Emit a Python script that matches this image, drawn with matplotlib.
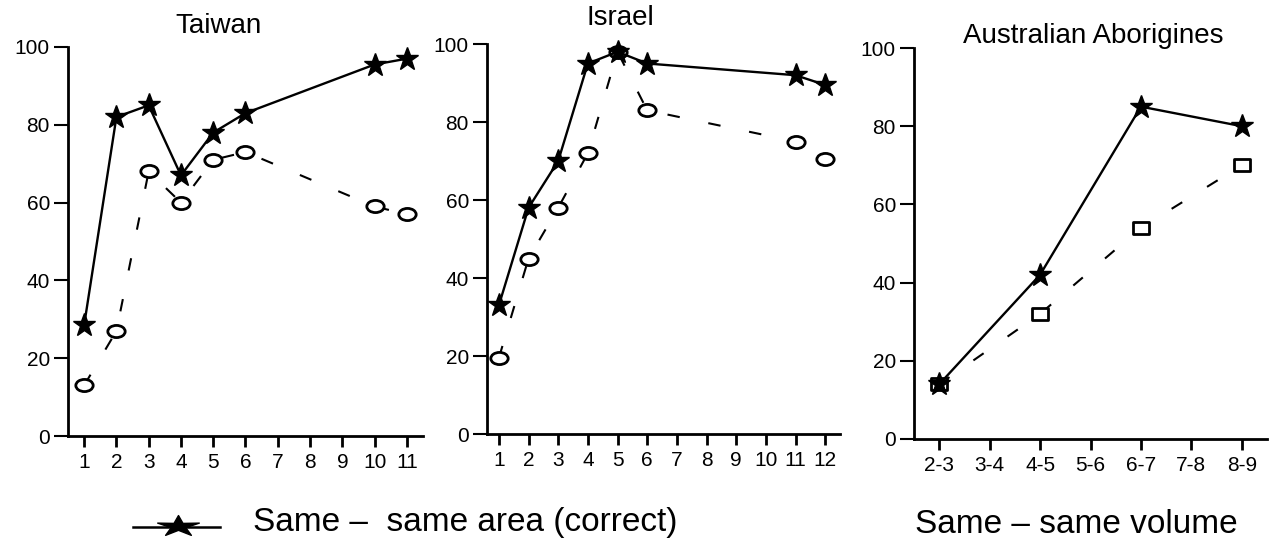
import matplotlib
matplotlib.use("Agg")
import matplotlib.pyplot as plt
from matplotlib.path import Path
from matplotlib.transforms import Affine2D

plt.rcParams['font.family'] = ['Liberation Sans', 'DejaVu Sans']

# ---- data ----
tw_x = [1, 2, 3, 4, 5, 6, 10, 11]
tw_area = [28.5, 82, 85, 67, 78, 83, 95.5, 97]
tw_other = [13, 27, 68, 60, 71, 73, 59, 57]
tw_ticks = [1, 2, 3, 4, 5, 6, 7, 8, 9, 10, 11]

is_x = [1, 2, 3, 4, 5, 6, 11, 12]
is_area = [33, 58, 70, 95, 98, 95, 92, 89.5]
is_other = [19.5, 45, 58, 72, 98, 83, 75, 70.5]
is_ticks = [1, 2, 3, 4, 5, 6, 7, 8, 9, 10, 11, 12]

au_labels = ["2-3", "3-4", "4-5", "5-6", "6-7", "7-8", "8-9"]
au_x = ["2-3", "4-5", "6-7", "8-9"]
au_volume = [14, 42, 85, 80]
au_other = [14, 32, 54, 70]

titles = ["Taiwan", "Israel", "Australian Aborigines"]
legend_left = "Same \u2013  same area (correct)"
legend_right = "Same \u2013 same volume"

W, H = 1279, 538
fig = plt.figure(figsize=(W / 100, H / 100), dpi=100)

def ax_at(l, r, t, b):
    return fig.add_axes([l / W, (H - b) / H, (r - l) / W, (b - t) / H])

ellipse = Path.unit_circle().transformed(Affine2D().scale(1.0, 0.7))
rect = Path([(-1, -0.7), (1, -0.7), (1, 0.7), (-1, 0.7), (-1, -0.7)],
            [Path.MOVETO, Path.LINETO, Path.LINETO, Path.LINETO, Path.CLOSEPOLY])
flat_star = Path.unit_regular_star(5, 0.35).transformed(Affine2D().scale(1.0, 0.5))

def style(ax, xlim):
    ax.set_xlim(*xlim)
    ax.set_ylim(0, 100)
    for s in ['top', 'right']:
        ax.spines[s].set_visible(False)
    for s in ['left', 'bottom']:
        ax.spines[s].set_linewidth(2)
    ax.set_yticks([0, 20, 40, 60, 80, 100])
    ax.tick_params(axis='y', direction='out', length=10, width=1.5, labelsize=15, pad=3)
    ax.tick_params(axis='x', direction='out', length=8, width=2, labelsize=15, pad=4)

def plot_pair(ax, x, a, o, omarker, oms):
    ax.plot(x, o, color='black', lw=1.5, linestyle=(0, (6, 14)),
            marker=omarker, ms=oms, mfc='white', mec='black', mew=2, clip_on=False, zorder=3)
    ax.plot(x, a, color='black', lw=1.7, marker='*', ms=17, mfc='black', mec='black',
            clip_on=False, zorder=4)

ax1 = ax_at(68, 423, 47, 436)
plot_pair(ax1, tw_x, tw_area, tw_other, ellipse, 12.5)
style(ax1, (0.5, 11.5))
ax1.set_xticks(tw_ticks)
ax1.set_xticklabels([str(t) for t in tw_ticks])
fig.text(219 / W, 1 - 26 / H, titles[0], ha='center', va='center', fontsize=20)

ax2 = ax_at(487, 840, 44, 434)
plot_pair(ax2, is_x, is_area, is_other, ellipse, 12.5)
style(ax2, (0.6, 12.5))
ax2.set_xticks(is_ticks)
ax2.set_xticklabels([str(t) for t in is_ticks])
fig.text(620 / W, 1 - 18 / H, titles[1], ha='center', va='center', fontsize=20)

ax3 = ax_at(914, 1267, 48, 439)
xi = [au_labels.index(v) for v in au_x]
plot_pair(ax3, xi, au_volume, au_other, rect, 12)
style(ax3, (-0.5, 6.5))
ax3.set_xticks(range(len(au_labels)))
ax3.set_xticklabels(au_labels)
fig.text(1093 / W, 1 - 36 / H, titles[2], ha='center', va='center', fontsize=20)

# legend-like annotations at the bottom
fig.lines.append(plt.Line2D([133 / W, 220 / W], [1 - 527 / H, 1 - 527 / H], color='black',
                            lw=1.8, transform=fig.transFigure))
fig.lines.append(plt.Line2D([178 / W], [1 - 526 / H], color='black', marker=flat_star, ms=30,
                            transform=fig.transFigure))
fig.text(253 / W, 1 - 531 / H, legend_left, ha='left', va='baseline', fontsize=24)
fig.text(915 / W, 1 - 533 / H, legend_right, ha='left', va='baseline', fontsize=24)

fig.savefig("out.png", dpi=100)
